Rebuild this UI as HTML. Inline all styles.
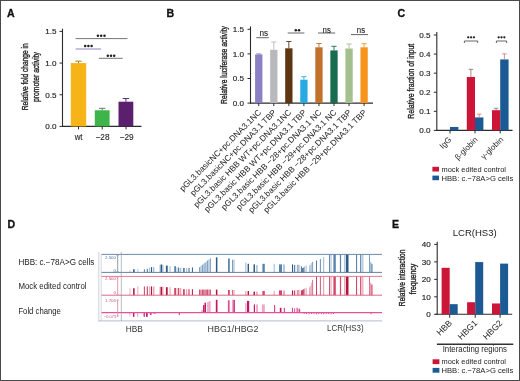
<!DOCTYPE html>
<html><head><meta charset="utf-8"><title>Figure</title>
<style>
html,body{margin:0;padding:0;background:#fff;}
body{width:520px;height:381px;overflow:hidden;}
svg{display:block;filter:blur(0.3px);font-family:"Liberation Sans",sans-serif;}
</style></head>
<body>
<svg width="520" height="381" viewBox="0 0 520 381">
<rect x="0" y="0" width="520" height="381" fill="#fff"/>
<text x="7.10" y="16.80" font-size="10.6" stroke="#111" stroke-width="0.3" font-weight="bold" fill="#111">A</text>
<line x1="62.50" y1="28.70" x2="62.50" y2="126.90" stroke="#2b2b2b" stroke-width="1.1"/>
<line x1="62.00" y1="126.40" x2="141.50" y2="126.40" stroke="#2b2b2b" stroke-width="1.1"/>
<line x1="59.50" y1="126.40" x2="62.50" y2="126.40" stroke="#2b2b2b" stroke-width="1"/>
<text x="56.40" y="129.30" font-size="8.1" stroke="#222" stroke-width="0.15" text-anchor="end" fill="#222">0.0</text>
<line x1="59.50" y1="94.73" x2="62.50" y2="94.73" stroke="#2b2b2b" stroke-width="1"/>
<text x="56.40" y="97.63" font-size="8.1" stroke="#222" stroke-width="0.15" text-anchor="end" fill="#222">0.5</text>
<line x1="59.50" y1="63.07" x2="62.50" y2="63.07" stroke="#2b2b2b" stroke-width="1"/>
<text x="56.40" y="65.97" font-size="8.1" stroke="#222" stroke-width="0.15" text-anchor="end" fill="#222">1.0</text>
<line x1="59.50" y1="31.40" x2="62.50" y2="31.40" stroke="#2b2b2b" stroke-width="1"/>
<text x="56.40" y="34.30" font-size="8.1" stroke="#222" stroke-width="0.15" text-anchor="end" fill="#222">1.5</text>
<rect x="70.80" y="63.07" width="15.40" height="63.33" fill="#f7b418"/>
<line x1="78.50" y1="61.17" x2="78.50" y2="63.07" stroke="#9a7420" stroke-width="0.9"/>
<line x1="75.30" y1="61.17" x2="81.70" y2="61.17" stroke="#9a7420" stroke-width="0.9"/>
<rect x="94.80" y="110.25" width="14.80" height="16.15" fill="#3db54a"/>
<line x1="102.20" y1="108.35" x2="102.20" y2="110.25" stroke="#55705a" stroke-width="0.9"/>
<line x1="99.00" y1="108.35" x2="105.40" y2="108.35" stroke="#55705a" stroke-width="0.9"/>
<rect x="118.50" y="101.70" width="14.80" height="24.70" fill="#5b1f6e"/>
<line x1="125.90" y1="98.53" x2="125.90" y2="101.70" stroke="#4a1a5a" stroke-width="0.9"/>
<line x1="122.70" y1="98.53" x2="129.10" y2="98.53" stroke="#4a1a5a" stroke-width="0.9"/>
<line x1="78.50" y1="126.40" x2="78.50" y2="129.40" stroke="#2b2b2b" stroke-width="1"/>
<line x1="102.20" y1="126.40" x2="102.20" y2="129.40" stroke="#2b2b2b" stroke-width="1"/>
<line x1="126.00" y1="126.40" x2="126.00" y2="129.40" stroke="#2b2b2b" stroke-width="1"/>
<text x="78.60" y="140.10" font-size="8.6" stroke="#222" stroke-width="0.1" text-anchor="middle" fill="#222" textLength="7.90" lengthAdjust="spacingAndGlyphs">wt</text>
<text x="102.50" y="140.10" font-size="8.6" stroke="#222" stroke-width="0.1" text-anchor="middle" fill="#222" textLength="14.00" lengthAdjust="spacingAndGlyphs">−28</text>
<text x="126.60" y="140.10" font-size="8.6" stroke="#222" stroke-width="0.1" text-anchor="middle" fill="#222" textLength="14.00" lengthAdjust="spacingAndGlyphs">−29</text>
<line x1="75.60" y1="38.60" x2="127.50" y2="38.60" stroke="#666" stroke-width="0.9"/>
<circle cx="97.90" cy="35.70" r="1.25" fill="#1e1e1e"/>
<circle cx="101.20" cy="35.70" r="1.25" fill="#1e1e1e"/>
<circle cx="104.50" cy="35.70" r="1.25" fill="#1e1e1e"/>
<line x1="75.60" y1="49.00" x2="101.00" y2="49.00" stroke="#8a86bd" stroke-width="1.0"/>
<circle cx="85.20" cy="46.10" r="1.25" fill="#1e1e1e"/>
<circle cx="88.40" cy="46.10" r="1.25" fill="#1e1e1e"/>
<circle cx="91.60" cy="46.10" r="1.25" fill="#1e1e1e"/>
<line x1="99.00" y1="58.30" x2="122.70" y2="58.30" stroke="#666" stroke-width="0.9"/>
<circle cx="107.80" cy="55.80" r="1.25" fill="#1e1e1e"/>
<circle cx="111.00" cy="55.80" r="1.25" fill="#1e1e1e"/>
<circle cx="114.20" cy="55.80" r="1.25" fill="#1e1e1e"/>
<text x="27.90" y="76.80" font-size="9.5" stroke="#222" stroke-width="0.35" text-anchor="middle" fill="#222" textLength="67.00" lengthAdjust="spacingAndGlyphs" transform="rotate(-90 27.90 76.80)">Relative fold change in</text>
<text x="38.70" y="77.00" font-size="9.5" stroke="#222" stroke-width="0.35" text-anchor="middle" fill="#222" textLength="50.00" lengthAdjust="spacingAndGlyphs" transform="rotate(-90 38.70 77.00)">promoter activity</text>
<text x="166.60" y="16.80" font-size="10.6" stroke="#111" stroke-width="0.3" font-weight="bold" fill="#111">B</text>
<line x1="250.50" y1="26.40" x2="250.50" y2="103.60" stroke="#2b2b2b" stroke-width="1.1"/>
<line x1="250.00" y1="103.10" x2="373.00" y2="103.10" stroke="#2b2b2b" stroke-width="1.1"/>
<line x1="247.50" y1="103.10" x2="250.50" y2="103.10" stroke="#2b2b2b" stroke-width="1"/>
<text x="244.00" y="106.00" font-size="8.1" stroke="#222" stroke-width="0.15" text-anchor="end" fill="#222">0.0</text>
<line x1="247.50" y1="78.50" x2="250.50" y2="78.50" stroke="#2b2b2b" stroke-width="1"/>
<text x="244.00" y="81.40" font-size="8.1" stroke="#222" stroke-width="0.15" text-anchor="end" fill="#222">0.5</text>
<line x1="247.50" y1="53.90" x2="250.50" y2="53.90" stroke="#2b2b2b" stroke-width="1"/>
<text x="244.00" y="56.80" font-size="8.1" stroke="#222" stroke-width="0.15" text-anchor="end" fill="#222">1.0</text>
<line x1="247.50" y1="29.30" x2="250.50" y2="29.30" stroke="#2b2b2b" stroke-width="1"/>
<text x="244.00" y="32.20" font-size="8.1" stroke="#222" stroke-width="0.15" text-anchor="end" fill="#222">1.5</text>
<rect x="255.10" y="54.50" width="7.30" height="48.60" fill="#8a80c3"/>
<line x1="258.75" y1="53.90" x2="258.75" y2="54.50" stroke="#8a80c3" stroke-width="0.9"/>
<line x1="256.15" y1="53.90" x2="261.35" y2="53.90" stroke="#8a80c3" stroke-width="0.9"/>
<line x1="258.75" y1="103.10" x2="258.75" y2="106.10" stroke="#2b2b2b" stroke-width="1"/>
<rect x="270.15" y="49.80" width="7.30" height="53.30" fill="#b9b9bd"/>
<line x1="273.80" y1="42.00" x2="273.80" y2="49.80" stroke="#b9b9bd" stroke-width="0.9"/>
<line x1="271.20" y1="42.00" x2="276.40" y2="42.00" stroke="#b9b9bd" stroke-width="0.9"/>
<line x1="273.80" y1="103.10" x2="273.80" y2="106.10" stroke="#2b2b2b" stroke-width="1"/>
<rect x="285.20" y="48.30" width="7.30" height="54.80" fill="#5d3513"/>
<line x1="288.85" y1="41.50" x2="288.85" y2="48.30" stroke="#5d3513" stroke-width="0.9"/>
<line x1="286.25" y1="41.50" x2="291.45" y2="41.50" stroke="#5d3513" stroke-width="0.9"/>
<line x1="288.85" y1="103.10" x2="288.85" y2="106.10" stroke="#2b2b2b" stroke-width="1"/>
<rect x="300.25" y="79.70" width="7.30" height="23.40" fill="#29a9e1"/>
<line x1="303.90" y1="76.70" x2="303.90" y2="79.70" stroke="#29a9e1" stroke-width="0.9"/>
<line x1="301.30" y1="76.70" x2="306.50" y2="76.70" stroke="#29a9e1" stroke-width="0.9"/>
<line x1="303.90" y1="103.10" x2="303.90" y2="106.10" stroke="#2b2b2b" stroke-width="1"/>
<rect x="315.30" y="47.30" width="7.30" height="55.80" fill="#c0712a"/>
<line x1="318.95" y1="43.50" x2="318.95" y2="47.30" stroke="#c0712a" stroke-width="0.9"/>
<line x1="316.35" y1="43.50" x2="321.55" y2="43.50" stroke="#c0712a" stroke-width="0.9"/>
<line x1="318.95" y1="103.10" x2="318.95" y2="106.10" stroke="#2b2b2b" stroke-width="1"/>
<rect x="330.35" y="50.40" width="7.30" height="52.70" fill="#186c4f"/>
<line x1="334.00" y1="46.30" x2="334.00" y2="50.40" stroke="#186c4f" stroke-width="0.9"/>
<line x1="331.40" y1="46.30" x2="336.60" y2="46.30" stroke="#186c4f" stroke-width="0.9"/>
<line x1="334.00" y1="103.10" x2="334.00" y2="106.10" stroke="#2b2b2b" stroke-width="1"/>
<rect x="345.40" y="48.50" width="7.30" height="54.60" fill="#a5c08f"/>
<line x1="349.05" y1="44.00" x2="349.05" y2="48.50" stroke="#a5c08f" stroke-width="0.9"/>
<line x1="346.45" y1="44.00" x2="351.65" y2="44.00" stroke="#a5c08f" stroke-width="0.9"/>
<line x1="349.05" y1="103.10" x2="349.05" y2="106.10" stroke="#2b2b2b" stroke-width="1"/>
<rect x="360.45" y="47.30" width="7.30" height="55.80" fill="#f7941e"/>
<line x1="364.10" y1="43.70" x2="364.10" y2="47.30" stroke="#f7941e" stroke-width="0.9"/>
<line x1="361.50" y1="43.70" x2="366.70" y2="43.70" stroke="#f7941e" stroke-width="0.9"/>
<line x1="364.10" y1="103.10" x2="364.10" y2="106.10" stroke="#2b2b2b" stroke-width="1"/>
<line x1="256.30" y1="37.70" x2="268.80" y2="37.70" stroke="#555" stroke-width="0.9"/>
<text x="263.90" y="35.60" font-size="8.6" stroke="#222" stroke-width="0.1" text-anchor="middle" fill="#222" textLength="8.60" lengthAdjust="spacingAndGlyphs">ns</text>
<line x1="287.70" y1="33.00" x2="304.40" y2="33.00" stroke="#555" stroke-width="0.9"/>
<circle cx="295.80" cy="30.30" r="1.25" fill="#1e1e1e"/>
<circle cx="299.00" cy="30.30" r="1.25" fill="#1e1e1e"/>
<line x1="318.00" y1="33.00" x2="335.20" y2="33.00" stroke="#555" stroke-width="0.9"/>
<text x="326.70" y="32.60" font-size="8.3" stroke="#222" stroke-width="0.1" text-anchor="middle" fill="#222" textLength="8.30" lengthAdjust="spacingAndGlyphs">ns</text>
<line x1="351.00" y1="34.60" x2="368.00" y2="34.60" stroke="#555" stroke-width="0.9"/>
<text x="361.00" y="33.00" font-size="8.3" stroke="#222" stroke-width="0.1" text-anchor="middle" fill="#222" textLength="8.30" lengthAdjust="spacingAndGlyphs">ns</text>
<text x="227.10" y="65.00" font-size="9" stroke="#222" stroke-width="0.35" text-anchor="middle" fill="#222" textLength="78.00" lengthAdjust="spacingAndGlyphs" transform="rotate(-90 227.10 65.00)">Relative luciferase activity</text>
<text x="261.75" y="113.00" font-size="8.35" text-anchor="end" fill="#222" transform="rotate(-45 261.75 113.00)">pGL3.basicNC+pc.DNA3.1NC</text>
<text x="276.80" y="113.00" font-size="8.35" text-anchor="end" fill="#222" transform="rotate(-45 276.80 113.00)">pGL3.basicNC+pc.DNA3.1 TBP</text>
<text x="291.85" y="113.00" font-size="8.35" text-anchor="end" fill="#222" transform="rotate(-45 291.85 113.00)">pGL3.basic HBB WT+pc.DNA3.1NC</text>
<text x="306.90" y="113.00" font-size="8.35" text-anchor="end" fill="#222" transform="rotate(-45 306.90 113.00)">pGL3.basic HBB WT+pc.DNA3.1 TBP</text>
<text x="321.95" y="113.00" font-size="8.35" text-anchor="end" fill="#222" transform="rotate(-45 321.95 113.00)">pGL3.basic HBB −28+pc.DNA3.1 NC</text>
<text x="337.00" y="113.00" font-size="8.35" text-anchor="end" fill="#222" transform="rotate(-45 337.00 113.00)">pGL3.basic HBB −29+pc.DNA3.1 NC</text>
<text x="352.05" y="113.00" font-size="8.35" text-anchor="end" fill="#222" transform="rotate(-45 352.05 113.00)">pGL3.basic HBB −28+pc.DNA3.1 TBP</text>
<text x="367.10" y="113.00" font-size="8.35" text-anchor="end" fill="#222" transform="rotate(-45 367.10 113.00)">pGL3.basic HBB −29+pc.DNA3.1 TBP</text>
<text x="397.60" y="16.80" font-size="10.6" stroke="#111" stroke-width="0.3" font-weight="bold" fill="#111">C</text>
<line x1="436.80" y1="32.00" x2="436.80" y2="130.90" stroke="#2b2b2b" stroke-width="1.1"/>
<line x1="436.30" y1="130.40" x2="512.50" y2="130.40" stroke="#2b2b2b" stroke-width="1.1"/>
<line x1="433.80" y1="130.40" x2="436.80" y2="130.40" stroke="#2b2b2b" stroke-width="1"/>
<text x="430.60" y="133.30" font-size="8.1" stroke="#222" stroke-width="0.15" text-anchor="end" fill="#222">0.0</text>
<line x1="433.80" y1="111.32" x2="436.80" y2="111.32" stroke="#2b2b2b" stroke-width="1"/>
<text x="430.60" y="114.22" font-size="8.1" stroke="#222" stroke-width="0.15" text-anchor="end" fill="#222">0.1</text>
<line x1="433.80" y1="92.24" x2="436.80" y2="92.24" stroke="#2b2b2b" stroke-width="1"/>
<text x="430.60" y="95.14" font-size="8.1" stroke="#222" stroke-width="0.15" text-anchor="end" fill="#222">0.2</text>
<line x1="433.80" y1="73.16" x2="436.80" y2="73.16" stroke="#2b2b2b" stroke-width="1"/>
<text x="430.60" y="76.06" font-size="8.1" stroke="#222" stroke-width="0.15" text-anchor="end" fill="#222">0.3</text>
<line x1="433.80" y1="54.08" x2="436.80" y2="54.08" stroke="#2b2b2b" stroke-width="1"/>
<text x="430.60" y="56.98" font-size="8.1" stroke="#222" stroke-width="0.15" text-anchor="end" fill="#222">0.4</text>
<line x1="433.80" y1="35.00" x2="436.80" y2="35.00" stroke="#2b2b2b" stroke-width="1"/>
<text x="430.60" y="37.90" font-size="8.1" stroke="#222" stroke-width="0.15" text-anchor="end" fill="#222">0.5</text>
<rect x="450.00" y="126.97" width="8.40" height="3.43" fill="#1c5a94"/>
<line x1="450.00" y1="130.40" x2="450.00" y2="133.40" stroke="#2b2b2b" stroke-width="1"/>
<rect x="466.80" y="76.98" width="8.20" height="53.42" fill="#cc1537"/>
<line x1="470.90" y1="69.34" x2="470.90" y2="76.98" stroke="#8a6a6a" stroke-width="0.8"/>
<line x1="468.60" y1="69.34" x2="473.20" y2="69.34" stroke="#8a6a6a" stroke-width="0.8"/>
<rect x="475.00" y="117.43" width="8.40" height="12.97" fill="#1c5a94"/>
<line x1="479.20" y1="114.18" x2="479.20" y2="117.43" stroke="#d9707a" stroke-width="0.8"/>
<line x1="476.90" y1="114.18" x2="481.50" y2="114.18" stroke="#d9707a" stroke-width="0.8"/>
<line x1="475.00" y1="130.40" x2="475.00" y2="133.40" stroke="#2b2b2b" stroke-width="1"/>
<rect x="492.00" y="110.18" width="8.20" height="20.22" fill="#cc1537"/>
<line x1="496.10" y1="108.27" x2="496.10" y2="110.18" stroke="#8a6a6a" stroke-width="0.8"/>
<line x1="493.80" y1="108.27" x2="498.40" y2="108.27" stroke="#8a6a6a" stroke-width="0.8"/>
<rect x="500.20" y="59.42" width="8.40" height="70.98" fill="#1c5a94"/>
<line x1="504.40" y1="53.89" x2="504.40" y2="59.42" stroke="#d9707a" stroke-width="0.8"/>
<line x1="502.10" y1="53.89" x2="506.70" y2="53.89" stroke="#d9707a" stroke-width="0.8"/>
<line x1="500.20" y1="130.40" x2="500.20" y2="133.40" stroke="#2b2b2b" stroke-width="1"/>
<path d="M464.40 43.0 V41.0 H477.70 V43.0" fill="none" stroke="#555" stroke-width="0.9"/>
<circle cx="468.20" cy="37.30" r="1.15" fill="#1e1e1e"/>
<circle cx="471.05" cy="37.30" r="1.15" fill="#1e1e1e"/>
<circle cx="473.90" cy="37.30" r="1.15" fill="#1e1e1e"/>
<path d="M496.40 43.0 V41.0 H506.60 V43.0" fill="none" stroke="#555" stroke-width="0.9"/>
<circle cx="498.65" cy="37.30" r="1.15" fill="#1e1e1e"/>
<circle cx="501.50" cy="37.30" r="1.15" fill="#1e1e1e"/>
<circle cx="504.35" cy="37.30" r="1.15" fill="#1e1e1e"/>
<text x="413.90" y="81.20" font-size="9.5" stroke="#222" stroke-width="0.35" text-anchor="middle" fill="#222" textLength="75.00" lengthAdjust="spacingAndGlyphs" transform="rotate(-90 413.90 81.20)">Relative fraction of input</text>
<text x="452.00" y="140.20" font-size="8" text-anchor="end" fill="#222" transform="rotate(-45 452.00 140.20)">IgG</text>
<text x="478.20" y="140.20" font-size="8" text-anchor="end" fill="#222" transform="rotate(-45 478.20 140.20)">β-globin</text>
<text x="503.80" y="140.00" font-size="8" text-anchor="end" fill="#222" transform="rotate(-45 503.80 140.00)">γ-globin</text>
<rect x="432.40" y="166.80" width="6.60" height="4.70" fill="#cc1537"/>
<rect x="432.40" y="175.60" width="6.60" height="4.60" fill="#1c5a94"/>
<text x="441.50" y="172.00" font-size="8" fill="#222" textLength="64.50" lengthAdjust="spacingAndGlyphs">mock edited control</text>
<text x="441.50" y="180.70" font-size="8" fill="#222" textLength="71.80" lengthAdjust="spacingAndGlyphs">HBB: c.−78A&gt;G cells</text>
<text x="7.40" y="227.70" font-size="10.6" stroke="#111" stroke-width="0.3" font-weight="bold" fill="#111">D</text>
<text x="18.40" y="265.40" font-size="8.3" fill="#222" textLength="76.00" lengthAdjust="spacingAndGlyphs">HBB: c.−78A&gt;G cells</text>
<text x="18.40" y="289.10" font-size="8.3" fill="#222" textLength="68.20" lengthAdjust="spacingAndGlyphs">Mock edited control</text>
<text x="18.40" y="313.70" font-size="8.3" fill="#222" textLength="42.50" lengthAdjust="spacingAndGlyphs">Fold change</text>
<path d="M199 272.4 L199 267.4 L210.7 257.9 L210.7 272.4 Z" fill="#c6d7e8"/>
<path d="M199 295.2 L199 289.7 L210.7 289.5 L210.7 295.2 Z" fill="#f3bccb"/>
<rect x="199.30" y="267.16" width="0.60" height="5.24" fill="#5a84ad"/>
<rect x="199.30" y="289.60" width="0.60" height="5.60" fill="#b0163c"/>
<rect x="200.65" y="266.06" width="0.60" height="6.34" fill="#a9c2da"/>
<rect x="200.65" y="289.60" width="0.60" height="5.60" fill="#d2476a"/>
<rect x="202.00" y="264.96" width="0.60" height="7.44" fill="#5a84ad"/>
<rect x="202.00" y="289.60" width="0.60" height="5.60" fill="#b0163c"/>
<rect x="203.35" y="263.87" width="0.60" height="8.53" fill="#a9c2da"/>
<rect x="203.35" y="289.60" width="0.60" height="5.60" fill="#d2476a"/>
<rect x="204.70" y="262.77" width="0.60" height="9.63" fill="#5a84ad"/>
<rect x="204.70" y="289.60" width="0.60" height="5.60" fill="#b0163c"/>
<rect x="206.05" y="261.68" width="0.60" height="10.72" fill="#a9c2da"/>
<rect x="206.05" y="289.60" width="0.60" height="5.60" fill="#d2476a"/>
<rect x="207.40" y="260.58" width="0.60" height="11.82" fill="#5a84ad"/>
<rect x="207.40" y="289.60" width="0.60" height="5.60" fill="#b0163c"/>
<rect x="208.75" y="259.48" width="0.60" height="12.92" fill="#a9c2da"/>
<rect x="208.75" y="289.60" width="0.60" height="5.60" fill="#d2476a"/>
<rect x="210.10" y="258.39" width="0.60" height="14.01" fill="#5a84ad"/>
<rect x="210.10" y="289.60" width="0.60" height="5.60" fill="#b0163c"/>
<rect x="129.60" y="270.10" width="0.80" height="2.30" fill="#a9c2da"/>
<rect x="129.60" y="288.20" width="0.80" height="7.00" fill="#eea2b4"/>
<rect x="133.10" y="269.20" width="1.50" height="3.20" fill="#2d5a86"/>
<rect x="133.10" y="288.20" width="1.50" height="7.00" fill="#b0163c"/>
<rect x="137.40" y="268.90" width="0.90" height="3.50" fill="#a9c2da"/>
<rect x="137.40" y="286.40" width="0.90" height="8.80" fill="#eea2b4"/>
<rect x="143.90" y="269.20" width="0.80" height="3.20" fill="#2d5a86"/>
<rect x="143.90" y="286.40" width="0.80" height="8.80" fill="#b0163c"/>
<rect x="146.80" y="268.90" width="0.90" height="3.50" fill="#2d5a86"/>
<rect x="146.80" y="286.40" width="0.90" height="8.80" fill="#b0163c"/>
<rect x="149.10" y="267.50" width="1.20" height="4.90" fill="#a9c2da"/>
<rect x="149.10" y="286.40" width="1.20" height="8.80" fill="#eea2b4"/>
<rect x="151.00" y="267.10" width="1.10" height="5.30" fill="#2d5a86"/>
<rect x="151.00" y="286.40" width="1.10" height="8.80" fill="#b0163c"/>
<rect x="153.00" y="267.10" width="1.40" height="5.30" fill="#a9c2da"/>
<rect x="153.00" y="286.40" width="1.40" height="8.80" fill="#eea2b4"/>
<rect x="159.50" y="264.80" width="1.10" height="7.60" fill="#a9c2da"/>
<rect x="159.50" y="286.80" width="1.10" height="8.40" fill="#eea2b4"/>
<rect x="160.60" y="264.50" width="1.70" height="7.90" fill="#2d5a86"/>
<rect x="160.60" y="286.80" width="1.70" height="8.40" fill="#b0163c"/>
<rect x="162.30" y="265.00" width="1.20" height="7.40" fill="#a9c2da"/>
<rect x="162.30" y="286.80" width="1.20" height="8.40" fill="#eea2b4"/>
<rect x="165.90" y="265.60" width="1.80" height="6.80" fill="#2d5a86"/>
<rect x="165.90" y="287.20" width="1.80" height="8.00" fill="#b0163c"/>
<rect x="169.50" y="266.00" width="1.10" height="6.40" fill="#a9c2da"/>
<rect x="169.50" y="287.20" width="1.10" height="8.00" fill="#eea2b4"/>
<rect x="174.20" y="266.20" width="1.80" height="6.20" fill="#5a84ad"/>
<rect x="174.20" y="288.00" width="1.80" height="7.20" fill="#d2476a"/>
<rect x="176.50" y="267.40" width="1.00" height="5.00" fill="#a9c2da"/>
<rect x="176.50" y="288.00" width="1.00" height="7.20" fill="#eea2b4"/>
<rect x="178.00" y="267.40" width="1.00" height="5.00" fill="#5a84ad"/>
<rect x="178.00" y="288.00" width="1.00" height="7.20" fill="#d2476a"/>
<rect x="179.50" y="267.80" width="1.80" height="4.60" fill="#a9c2da"/>
<rect x="179.50" y="288.00" width="1.80" height="7.20" fill="#eea2b4"/>
<rect x="183.00" y="268.00" width="1.80" height="4.40" fill="#5a84ad"/>
<rect x="183.00" y="289.20" width="1.80" height="6.00" fill="#d2476a"/>
<rect x="186.00" y="268.00" width="1.20" height="4.40" fill="#a9c2da"/>
<rect x="186.00" y="289.20" width="1.20" height="6.00" fill="#eea2b4"/>
<rect x="188.40" y="268.00" width="1.20" height="4.40" fill="#5a84ad"/>
<rect x="188.40" y="289.20" width="1.20" height="6.00" fill="#d2476a"/>
<rect x="191.90" y="267.40" width="1.00" height="5.00" fill="#2d5a86"/>
<rect x="191.90" y="289.20" width="1.00" height="6.00" fill="#b0163c"/>
<rect x="215.90" y="257.30" width="1.50" height="15.10" fill="#2d5a86"/>
<rect x="215.90" y="289.60" width="1.50" height="5.60" fill="#b0163c"/>
<rect x="228.00" y="258.50" width="1.80" height="13.90" fill="#5a84ad"/>
<rect x="228.00" y="290.00" width="1.80" height="5.20" fill="#d2476a"/>
<rect x="232.20" y="259.70" width="1.00" height="12.70" fill="#5a84ad"/>
<rect x="232.20" y="290.00" width="1.00" height="5.20" fill="#d2476a"/>
<rect x="233.60" y="259.70" width="1.00" height="12.70" fill="#a9c2da"/>
<rect x="233.60" y="290.00" width="1.00" height="5.20" fill="#eea2b4"/>
<rect x="245.20" y="262.60" width="1.20" height="9.80" fill="#a9c2da"/>
<rect x="245.20" y="291.00" width="1.20" height="4.20" fill="#eea2b4"/>
<rect x="247.60" y="263.80" width="1.40" height="8.60" fill="#2d5a86"/>
<rect x="247.60" y="291.00" width="1.40" height="4.20" fill="#b0163c"/>
<rect x="253.50" y="264.40" width="1.50" height="8.00" fill="#2d5a86"/>
<rect x="253.50" y="291.60" width="1.50" height="3.60" fill="#b0163c"/>
<rect x="256.10" y="265.00" width="1.60" height="7.40" fill="#a9c2da"/>
<rect x="256.10" y="291.60" width="1.60" height="3.60" fill="#eea2b4"/>
<rect x="262.40" y="263.80" width="2.40" height="8.60" fill="#5a84ad"/>
<rect x="262.40" y="291.00" width="2.40" height="4.20" fill="#d2476a"/>
<rect x="273.60" y="263.80" width="1.20" height="8.60" fill="#a9c2da"/>
<rect x="273.60" y="291.00" width="1.20" height="4.20" fill="#eea2b4"/>
<rect x="279.00" y="264.40" width="3.00" height="8.00" fill="#5a84ad"/>
<rect x="279.00" y="290.40" width="3.00" height="4.80" fill="#d2476a"/>
<rect x="283.10" y="264.40" width="1.80" height="8.00" fill="#a9c2da"/>
<rect x="283.10" y="290.40" width="1.80" height="4.80" fill="#eea2b4"/>
<rect x="292.00" y="264.40" width="1.10" height="8.00" fill="#2d5a86"/>
<rect x="292.00" y="290.40" width="1.10" height="4.80" fill="#b0163c"/>
<rect x="294.00" y="265.00" width="1.20" height="7.40" fill="#5a84ad"/>
<rect x="294.00" y="290.40" width="1.20" height="4.80" fill="#d2476a"/>
<rect x="296.90" y="264.70" width="0.70" height="7.70" fill="#5a84ad"/>
<rect x="296.90" y="290.00" width="0.70" height="5.20" fill="#d2476a"/>
<rect x="298.50" y="264.70" width="0.70" height="7.70" fill="#5a84ad"/>
<rect x="298.50" y="290.00" width="0.70" height="5.20" fill="#d2476a"/>
<rect x="299.70" y="265.30" width="0.60" height="7.10" fill="#a9c2da"/>
<rect x="299.70" y="290.00" width="0.60" height="5.20" fill="#eea2b4"/>
<rect x="301.10" y="266.40" width="0.80" height="6.00" fill="#2d5a86"/>
<rect x="301.10" y="290.40" width="0.80" height="4.80" fill="#b0163c"/>
<rect x="302.20" y="268.10" width="0.80" height="4.30" fill="#2d5a86"/>
<rect x="302.20" y="289.90" width="0.80" height="5.30" fill="#b0163c"/>
<rect x="303.30" y="267.50" width="0.80" height="4.90" fill="#2d5a86"/>
<rect x="303.30" y="289.20" width="0.80" height="6.00" fill="#b0163c"/>
<rect x="304.50" y="266.40" width="0.70" height="6.00" fill="#5a84ad"/>
<rect x="304.50" y="288.40" width="0.70" height="6.80" fill="#d2476a"/>
<rect x="305.90" y="265.30" width="0.80" height="7.10" fill="#a9c2da"/>
<rect x="305.90" y="287.80" width="0.80" height="7.40" fill="#eea2b4"/>
<rect x="309.00" y="265.80" width="0.60" height="6.60" fill="#a9c2da"/>
<rect x="309.00" y="287.80" width="0.60" height="7.40" fill="#eea2b4"/>
<rect x="309.80" y="264.70" width="0.60" height="7.70" fill="#5a84ad"/>
<rect x="309.80" y="286.10" width="0.60" height="9.10" fill="#d2476a"/>
<rect x="311.20" y="263.00" width="0.80" height="9.40" fill="#a9c2da"/>
<rect x="311.20" y="282.70" width="0.80" height="12.50" fill="#eea2b4"/>
<rect x="312.30" y="261.90" width="0.80" height="10.50" fill="#5a84ad"/>
<rect x="312.30" y="279.90" width="0.80" height="15.30" fill="#d2476a"/>
<rect x="316.10" y="260.50" width="0.80" height="11.90" fill="#2d5a86"/>
<rect x="316.10" y="276.40" width="0.80" height="18.80" fill="#b0163c"/>
<rect x="319.90" y="259.00" width="0.90" height="13.40" fill="#5a84ad"/>
<rect x="319.90" y="276.40" width="0.90" height="18.80" fill="#d2476a"/>
<rect x="323.00" y="257.20" width="1.20" height="15.20" fill="#a9c2da"/>
<rect x="323.00" y="276.40" width="1.20" height="18.80" fill="#eea2b4"/>
<rect x="329.30" y="254.40" width="0.90" height="18.00" fill="#2d5a86"/>
<rect x="329.30" y="276.40" width="0.90" height="18.80" fill="#b0163c"/>
<rect x="331.00" y="254.40" width="0.60" height="18.00" fill="#a9c2da"/>
<rect x="331.00" y="276.40" width="0.60" height="18.80" fill="#eea2b4"/>
<rect x="333.40" y="254.40" width="2.40" height="18.00" fill="#5a84ad"/>
<rect x="333.40" y="276.40" width="2.40" height="18.80" fill="#d2476a"/>
<rect x="339.90" y="254.40" width="1.20" height="18.00" fill="#5a84ad"/>
<rect x="339.90" y="276.40" width="1.20" height="18.80" fill="#d2476a"/>
<rect x="344.10" y="254.40" width="1.20" height="18.00" fill="#a9c2da"/>
<rect x="344.10" y="276.40" width="1.20" height="18.80" fill="#eea2b4"/>
<rect x="345.90" y="254.40" width="2.60" height="18.00" fill="#2d5a86"/>
<rect x="345.90" y="276.40" width="2.60" height="18.80" fill="#b0163c"/>
<rect x="356.00" y="254.40" width="1.10" height="18.00" fill="#5a84ad"/>
<rect x="356.00" y="276.40" width="1.10" height="18.80" fill="#d2476a"/>
<rect x="360.10" y="254.40" width="1.20" height="18.00" fill="#5a84ad"/>
<rect x="360.10" y="276.40" width="1.20" height="18.80" fill="#d2476a"/>
<rect x="362.20" y="254.40" width="1.20" height="18.00" fill="#a9c2da"/>
<rect x="362.20" y="276.40" width="1.20" height="18.80" fill="#eea2b4"/>
<rect x="369.00" y="254.40" width="0.80" height="18.00" fill="#5a84ad"/>
<rect x="369.00" y="276.40" width="0.80" height="18.80" fill="#d2476a"/>
<rect x="369.80" y="262.00" width="1.50" height="10.40" fill="#a9c2da"/>
<rect x="369.80" y="282.70" width="1.50" height="12.50" fill="#eea2b4"/>
<rect x="371.30" y="263.80" width="1.20" height="8.60" fill="#5a84ad"/>
<rect x="371.30" y="284.50" width="1.20" height="10.70" fill="#d2476a"/>
<rect x="129.20" y="312.70" width="1.20" height="2.90" fill="#f0a6c8"/>
<rect x="132.90" y="312.70" width="1.50" height="4.10" fill="#c2186a"/>
<rect x="137.10" y="312.70" width="1.10" height="4.10" fill="#f0a6c8"/>
<rect x="143.60" y="312.70" width="1.20" height="4.10" fill="#c2186a"/>
<rect x="146.00" y="312.70" width="1.70" height="4.10" fill="#c2186a"/>
<rect x="149.80" y="312.70" width="1.90" height="2.30" fill="#dc4a92"/>
<rect x="153.00" y="312.70" width="3.00" height="1.30" fill="#f0a6c8"/>
<rect x="178.80" y="312.70" width="1.20" height="2.30" fill="#dc4a92"/>
<rect x="201.30" y="310.10" width="1.80" height="2.60" fill="#f0a6c8"/>
<rect x="203.10" y="305.00" width="1.40" height="7.70" fill="#c2186a"/>
<rect x="204.50" y="302.70" width="1.50" height="10.00" fill="#c2186a"/>
<rect x="207.10" y="302.00" width="1.70" height="10.70" fill="#f0a6c8"/>
<rect x="208.80" y="301.00" width="1.80" height="11.70" fill="#f0a6c8"/>
<rect x="215.80" y="299.80" width="1.70" height="12.90" fill="#c2186a"/>
<rect x="227.90" y="300.30" width="1.70" height="12.40" fill="#dc4a92"/>
<rect x="231.90" y="299.80" width="1.30" height="12.90" fill="#f0a6c8"/>
<rect x="233.40" y="299.80" width="1.40" height="12.90" fill="#c2186a"/>
<rect x="245.20" y="303.20" width="1.10" height="9.50" fill="#f0a6c8"/>
<rect x="246.90" y="300.90" width="2.30" height="11.80" fill="#c2186a"/>
<rect x="253.80" y="304.40" width="1.20" height="8.30" fill="#c2186a"/>
<rect x="256.10" y="304.40" width="1.80" height="8.30" fill="#f0a6c8"/>
<rect x="261.90" y="304.40" width="2.90" height="8.30" fill="#f0a6c8"/>
<rect x="274.00" y="305.00" width="1.20" height="7.70" fill="#dc4a92"/>
<rect x="279.80" y="307.80" width="1.70" height="4.90" fill="#c2186a"/>
<rect x="283.80" y="307.80" width="1.20" height="4.90" fill="#dc4a92"/>
<rect x="291.90" y="307.80" width="1.10" height="4.90" fill="#dc4a92"/>
<rect x="294.20" y="308.30" width="0.90" height="4.40" fill="#dc4a92"/>
<rect x="296.50" y="307.80" width="1.20" height="4.90" fill="#dc4a92"/>
<rect x="298.50" y="308.70" width="1.70" height="4.00" fill="#dc4a92"/>
<rect x="370.50" y="312.70" width="1.00" height="1.50" fill="#dc4a92"/>
<rect x="303.70" y="312.70" width="0.90" height="1.10" fill="#c2186a"/>
<rect x="306.15" y="312.70" width="0.90" height="1.40" fill="#dc4a92"/>
<rect x="308.60" y="312.70" width="0.90" height="1.70" fill="#dc4a92"/>
<rect x="311.05" y="312.70" width="0.90" height="1.10" fill="#c2186a"/>
<rect x="313.50" y="312.70" width="0.90" height="1.40" fill="#dc4a92"/>
<rect x="315.95" y="312.70" width="0.90" height="1.70" fill="#dc4a92"/>
<rect x="318.40" y="312.70" width="0.90" height="1.10" fill="#c2186a"/>
<rect x="320.85" y="312.70" width="0.90" height="1.40" fill="#dc4a92"/>
<rect x="323.30" y="312.70" width="0.90" height="1.70" fill="#dc4a92"/>
<rect x="325.75" y="312.70" width="0.90" height="1.10" fill="#c2186a"/>
<rect x="328.20" y="312.70" width="0.90" height="1.40" fill="#dc4a92"/>
<rect x="330.65" y="312.70" width="0.90" height="1.70" fill="#dc4a92"/>
<rect x="333.10" y="312.70" width="0.90" height="1.10" fill="#c2186a"/>
<line x1="98.80" y1="252.00" x2="98.80" y2="321.50" stroke="#c9cbd3" stroke-width="0.9"/>
<line x1="98.80" y1="320.90" x2="382.00" y2="320.90" stroke="#aab3c6" stroke-width="0.9"/>
<line x1="101.20" y1="254.40" x2="382.00" y2="254.40" stroke="#5b7fa3" stroke-width="0.9"/>
<line x1="101.20" y1="272.40" x2="382.00" y2="272.40" stroke="#4f7399" stroke-width="0.9"/>
<line x1="101.20" y1="276.40" x2="382.00" y2="276.40" stroke="#e36b88" stroke-width="0.9"/>
<line x1="101.20" y1="295.20" x2="382.00" y2="295.20" stroke="#d9587a" stroke-width="0.9"/>
<line x1="101.20" y1="312.70" x2="382.00" y2="312.70" stroke="#e5529a" stroke-width="1.3"/>
<line x1="101.20" y1="254.00" x2="101.20" y2="321.00" stroke="#c5cede" stroke-width="0.8"/>
<line x1="121.30" y1="252.00" x2="121.30" y2="321.00" stroke="#8a8f99" stroke-width="0.6"/>
<line x1="117.70" y1="255.50" x2="117.70" y2="271.80" stroke="#7d93ad" stroke-width="0.9"/>
<line x1="117.70" y1="277.50" x2="117.70" y2="294.50" stroke="#e08aa0" stroke-width="0.9"/>
<line x1="117.70" y1="299.80" x2="117.70" y2="316.30" stroke="#e08aa0" stroke-width="0.9"/>
<line x1="116.60" y1="255.60" x2="118.60" y2="255.60" stroke="#7d93ad" stroke-width="0.8"/>
<line x1="116.60" y1="271.60" x2="118.60" y2="271.60" stroke="#7d93ad" stroke-width="0.8"/>
<line x1="116.60" y1="277.60" x2="118.60" y2="277.60" stroke="#e08aa0" stroke-width="0.8"/>
<line x1="116.60" y1="294.40" x2="118.60" y2="294.40" stroke="#e08aa0" stroke-width="0.8"/>
<line x1="116.60" y1="300.00" x2="118.60" y2="300.00" stroke="#d77a9a" stroke-width="0.8"/>
<line x1="116.60" y1="316.20" x2="118.60" y2="316.20" stroke="#d77a9a" stroke-width="0.8"/>
<text x="116.00" y="259.20" font-size="4.4" text-anchor="end" fill="#55759a" textLength="11.00" lengthAdjust="spacingAndGlyphs">2.500</text>
<text x="116.00" y="271.80" font-size="4.4" text-anchor="end" fill="#55759a">0</text>
<text x="116.00" y="280.40" font-size="4.4" text-anchor="end" fill="#c9506f" textLength="11.00" lengthAdjust="spacingAndGlyphs">2.500</text>
<text x="116.00" y="294.30" font-size="4.4" text-anchor="end" fill="#c9506f">0</text>
<text x="116.00" y="301.60" font-size="4.4" text-anchor="end" fill="#c4587e" textLength="11.00" lengthAdjust="spacingAndGlyphs">1.706</text>
<text x="116.00" y="317.60" font-size="4.4" text-anchor="end" fill="#c4587e" textLength="12.00" lengthAdjust="spacingAndGlyphs">−0.073</text>
<text x="125.80" y="332.00" font-size="8.3" fill="#333" textLength="17.10" lengthAdjust="spacingAndGlyphs">HBB</text>
<text x="207.60" y="332.40" font-size="8.3" fill="#333" textLength="50.80" lengthAdjust="spacingAndGlyphs">HBG1/HBG2</text>
<text x="327.00" y="331.30" font-size="8.3" fill="#333" textLength="36.70" lengthAdjust="spacingAndGlyphs">LCR(HS3)</text>
<text x="392.00" y="228.40" font-size="10.6" stroke="#111" stroke-width="0.3" font-weight="bold" fill="#111">E</text>
<text x="452.70" y="235.70" font-size="9.8" fill="#222" textLength="44.00" lengthAdjust="spacingAndGlyphs">LCR(HS3)</text>
<line x1="437.20" y1="241.80" x2="437.20" y2="314.80" stroke="#2b2b2b" stroke-width="1.1"/>
<line x1="435.50" y1="314.30" x2="512.20" y2="314.30" stroke="#2b2b2b" stroke-width="1.1"/>
<line x1="434.20" y1="314.30" x2="437.20" y2="314.30" stroke="#2b2b2b" stroke-width="1"/>
<text x="430.80" y="317.20" font-size="8.1" stroke="#222" stroke-width="0.15" text-anchor="end" fill="#222">0</text>
<line x1="434.20" y1="296.82" x2="437.20" y2="296.82" stroke="#2b2b2b" stroke-width="1"/>
<text x="430.80" y="299.72" font-size="8.1" stroke="#222" stroke-width="0.15" text-anchor="end" fill="#222">10</text>
<line x1="434.20" y1="279.35" x2="437.20" y2="279.35" stroke="#2b2b2b" stroke-width="1"/>
<text x="430.80" y="282.25" font-size="8.1" stroke="#222" stroke-width="0.15" text-anchor="end" fill="#222">20</text>
<line x1="434.20" y1="261.88" x2="437.20" y2="261.88" stroke="#2b2b2b" stroke-width="1"/>
<text x="430.80" y="264.77" font-size="8.1" stroke="#222" stroke-width="0.15" text-anchor="end" fill="#222">30</text>
<line x1="434.20" y1="244.40" x2="437.20" y2="244.40" stroke="#2b2b2b" stroke-width="1"/>
<text x="430.80" y="247.30" font-size="8.1" stroke="#222" stroke-width="0.15" text-anchor="end" fill="#222">40</text>
<rect x="441.60" y="267.82" width="8.10" height="46.48" fill="#cc1537"/>
<rect x="449.70" y="304.16" width="8.00" height="10.14" fill="#1c5a94"/>
<line x1="449.70" y1="314.30" x2="449.70" y2="317.80" stroke="#2b2b2b" stroke-width="1"/>
<rect x="467.10" y="302.24" width="8.10" height="12.06" fill="#cc1537"/>
<rect x="475.20" y="262.05" width="8.00" height="52.25" fill="#1c5a94"/>
<line x1="475.20" y1="314.30" x2="475.20" y2="317.80" stroke="#2b2b2b" stroke-width="1"/>
<rect x="492.00" y="303.47" width="8.10" height="10.83" fill="#cc1537"/>
<rect x="500.10" y="263.62" width="8.00" height="50.68" fill="#1c5a94"/>
<line x1="500.10" y1="314.30" x2="500.10" y2="317.80" stroke="#2b2b2b" stroke-width="1"/>
<text x="452.50" y="323.60" font-size="8.6" text-anchor="end" fill="#222" transform="rotate(-45 452.50 323.60)">HBB</text>
<text x="477.90" y="323.60" font-size="8.6" text-anchor="end" fill="#222" transform="rotate(-45 477.90 323.60)">HBG1</text>
<text x="503.00" y="323.60" font-size="8.6" text-anchor="end" fill="#222" transform="rotate(-45 503.00 323.60)">HBG2</text>
<line x1="436.90" y1="344.20" x2="513.30" y2="344.20" stroke="#333" stroke-width="1.4"/>
<text x="442.70" y="352.20" font-size="8.2" fill="#222" textLength="64.20" lengthAdjust="spacingAndGlyphs">Interacting regions</text>
<text x="405.40" y="277.90" font-size="9.2" stroke="#222" stroke-width="0.35" text-anchor="middle" fill="#222" textLength="56.50" lengthAdjust="spacingAndGlyphs" transform="rotate(-90 405.40 277.90)">Relative interaction</text>
<text x="416.30" y="279.00" font-size="9.2" stroke="#222" stroke-width="0.35" text-anchor="middle" fill="#222" textLength="30.60" lengthAdjust="spacingAndGlyphs" transform="rotate(-90 416.30 279.00)">frequency</text>
<rect x="432.60" y="359.30" width="6.80" height="4.80" fill="#cc1537"/>
<rect x="432.60" y="367.90" width="6.80" height="4.80" fill="#1c5a94"/>
<text x="441.50" y="364.00" font-size="8" fill="#222" textLength="64.50" lengthAdjust="spacingAndGlyphs">mock edited control</text>
<text x="441.50" y="372.80" font-size="8" fill="#222" textLength="71.80" lengthAdjust="spacingAndGlyphs">HBB: c.−78A&gt;G cells</text>
<rect x="0.5" y="0.5" width="519" height="380" fill="none" stroke="#4a4a4a" stroke-width="1"/>
</svg>
</body></html>
